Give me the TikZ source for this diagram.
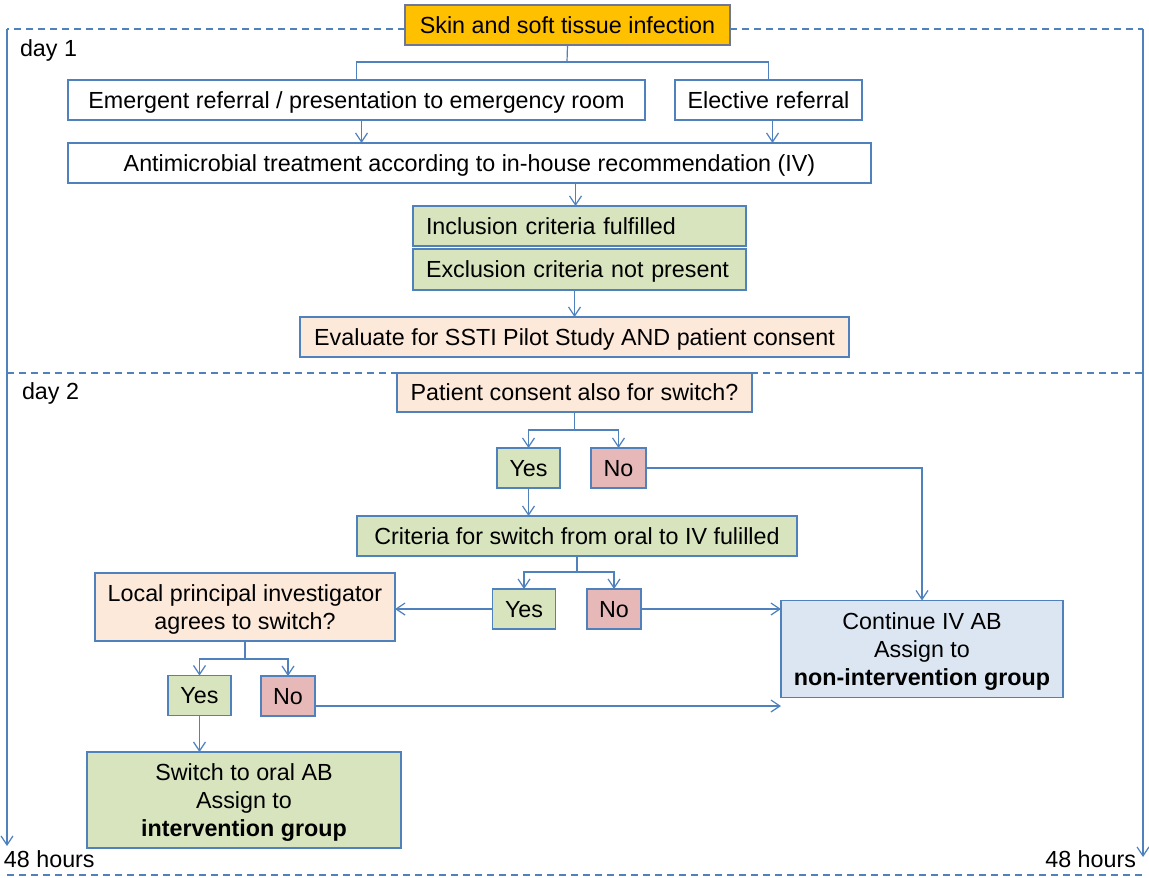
\documentclass[tikz,border=0pt]{standalone}
\usepackage{fontspec}
\setmainfont{Liberation Sans}
\usetikzlibrary{arrows.meta,calc}
\definecolor{lineblue}{RGB}{79,129,189}
\definecolor{orangefill}{RGB}{255,192,0}
\definecolor{greenfill}{RGB}{215,228,189}
\definecolor{peachfill}{RGB}{253,233,217}
\definecolor{pinkfill}{RGB}{230,185,184}
\definecolor{bluefill}{RGB}{220,230,242}
\definecolor{skinborder}{RGB}{110,120,150}
\tikzset{
  every node/.style={font=\fontsize{23.3}{28}\selectfont},
  box/.style={draw=lineblue, line width=1.3pt, inner sep=0pt, outer sep=0pt, align=center, text height=16.7pt, text depth=0pt},
  multi/.style={text height=, text depth=0pt},
  greenbox/.style={box, fill=greenfill},
  peachbox/.style={box, fill=peachfill},
  pinkbox/.style={box, fill=pinkfill},
  bluebox/.style={box, fill=bluefill},
  conn/.style={draw=lineblue, line width=1.2pt},
  arr/.style={conn, -{Straight Barb[length=9pt,width=12pt,line width=1.2pt]}},
  dashline/.style={draw=lineblue, line width=1.3pt, dash pattern=on 7pt off 5pt},
  plain/.style={inner sep=0pt, outer sep=0pt}
}
\begin{document}
\begin{tikzpicture}[x=1pt,y=-1pt]
\useasboundingbox (0,0) rectangle (1149,878);
% boxes
\node[box, fill=orangefill, draw=skinborder, minimum width=325, minimum height=40] (skin) at (567.5,25) {Skin and soft tissue infection};
\node[box, minimum width=577, minimum height=40] (emerg) at (356.5,100) {Emergent referral / presentation to emergency room};
\node[box, minimum width=187, minimum height=40] (elect) at (768.5,100) {Elective referral};
\node[box, minimum width=803, minimum height=40] (anti) at (469.5,163) {Antimicrobial treatment according to in-house recommendation (IV)};
\node[greenbox, minimum width=333, minimum height=40, text width=307, align=left] (incl) at (579.5,226) {Inclusion criteria fulfilled};
\node[greenbox, minimum width=333, minimum height=41, text width=307, align=left] (excl) at (579.5,269.5) {Exclusion criteria not present};
\node[peachbox, minimum width=549, minimum height=40] (eval) at (574.5,337) {Evaluate for SSTI Pilot Study AND patient consent};
\node[peachbox, minimum width=355, minimum height=39] (consent) at (574.5,392.5) {Patient consent also for switch?};
\node[greenbox, minimum width=63, minimum height=40] (yes1) at (528.5,468) {Yes};
\node[pinkbox, minimum width=55, minimum height=40] (no1) at (618.5,468) {No};
\node[greenbox, minimum width=440, minimum height=40] (crit) at (577,536) {Criteria for switch from oral to IV fulilled};
\node[greenbox, minimum width=63, minimum height=40] (yes2) at (524,609) {Yes};
\node[pinkbox, minimum width=54, minimum height=40] (no2) at (614,609) {No};
\node[peachbox, multi, minimum width=300, minimum height=68] (local) at (245,607) {Local principal investigator\\agrees to switch?};
\node[bluebox, multi, minimum width=282, minimum height=97] (cont) at (922,649) {Continue IV AB\\Assign to\\\textbf{non-intervention group}};
\node[greenbox, minimum width=63, minimum height=40] (yes3) at (199.5,695.5) {Yes};
\node[pinkbox, minimum width=54, minimum height=40] (no3) at (288,696) {No};
\node[greenbox, multi, minimum width=314, minimum height=96] (switch) at (244,800) {Switch to oral AB\\Assign to\\\textbf{intervention group}};
% labels
\node[plain, anchor=west] (day1) at (20,50) {day 1};
\node[plain, anchor=west] (day2) at (22,393) {day 2};
\node[plain, anchor=west] (h48l) at (4,859) {48 hours};
\node[plain, anchor=east] (h48r) at (1136,859) {48 hours};
% timeline frame
\coordinate (tlt) at (7,29);
\coordinate (tlb) at (7,846);
\coordinate (trt) at (1143,29);
\coordinate (trb) at (1143,857);
\coordinate (skl) at (405,29);
\coordinate (skr) at (730,29);
\draw[dashline] (skl) -- (tlt);
\draw[dashline] (skr) -- (trt);
\draw[arr] (tlt) -- (tlb);
\draw[arr] (trt) -- (trb);
\coordinate (midl) at (7,373);
\coordinate (midr) at (1143,373);
\draw[dashline] (midl) -- (midr);
\coordinate (botl) at (7,875);
\coordinate (botr) at (1143,875);
\draw[dashline] (botl) -- (botr);
% connectors
\coordinate (s1) at (567,62);
\draw[conn] (skin.south) -- (s1);
\draw[conn] (emerg.north) |- (s1) -| (elect.north);
\draw[arr] ([xshift=5]emerg.south) -- ([xshift=5]emerg.south |- anti.north);
\draw[arr] ([xshift=4]elect.south) -- ([xshift=4]elect.south |- anti.north);
\draw[arr] ([xshift=-4]incl.north |- anti.south) -- ([xshift=-4]incl.north);
\draw[arr] (excl.south -| eval.north) -- (eval.north);
% consent branch
\coordinate (b1) at (574.5,430);
\draw[conn] (consent.south) -- (b1);
\draw[arr] (b1) -| (yes1.north);
\draw[arr] (b1) -| (no1.north);
\draw[arr] (yes1.south) -- (yes1.south |- crit.north);
\draw[arr] (no1.east) -| (cont.north);
% criteria branch
\coordinate (b2) at (577,572);
\draw[conn] (crit.south) -- (b2);
\draw[arr] (b2) -| (yes2.north);
\draw[arr] (b2) -| (no2.north);
\draw[arr] (yes2.west) -- (yes2.west -| local.east);
\draw[arr] (no2.east) -- (no2.east -| cont.west);
% local branch
\coordinate (b3) at (245,659);
\draw[conn] (local.south) -- (b3);
\draw[arr] (b3) -| (yes3.north);
\draw[arr] (b3) -| (no3.north);
\draw[arr] ([yshift=-10]no3.east) -- ([yshift=-10]no3.east -| cont.west);
\draw[arr] (yes3.south) -- (yes3.south |- switch.north);
\end{tikzpicture}
\end{document}
